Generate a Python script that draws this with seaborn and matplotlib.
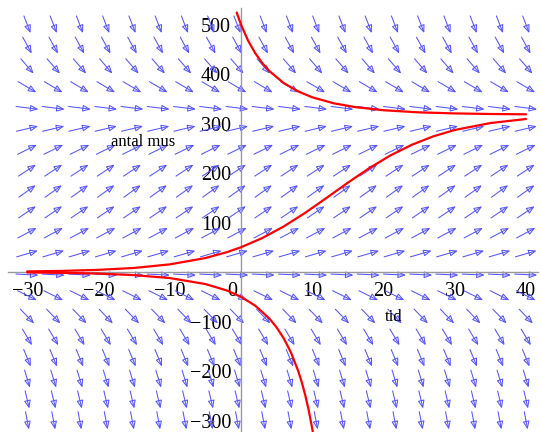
import numpy as np
import pandas as pd
import matplotlib
matplotlib.use("Agg")
import matplotlib.pyplot as plt
import matplotlib.transforms as mtransforms
from matplotlib.patches import FancyArrowPatch
import seaborn as sns

# ---------------- data ----------------
# direction-field grid (20 x 20) : time range and population range
t_range = [-30, 40]
y_range = [-300, 500]
n_grid = 20
# slope dy/dt read per row (rows from y=-300 up to y=500)
row_slopes = [-75.8, -60.7, -47.1, -34.9, -24.2, -14.9, -7.1, -0.7, 4.2, 7.7,
              9.75, 10.3, 9.45, 7.1, 3.4, -1.8, -8.5, -16.6, -26.2, -37.2]

# solution curves (t, y)
curve_upper_t = [-0.6, 0, 1, 2, 3, 4, 6, 8, 10, 13, 16, 20, 25, 30, 35, 40]
curve_upper_y = [524.3, 500, 467.4, 442.1, 422.0, 405.8, 381.7, 365.0, 353.0,
                 340.9, 333.2, 326.8, 322.5, 320.4, 319.2, 318.6]

curve_mid_t = [-30, -25, -20, -15, -10, -5, -2, 0, 3, 6, 9, 12, 15, 18, 21, 24,
               27, 30, 35, 40]
curve_mid_y = [1.2, 2.3, 4.4, 8.2, 15.4, 28.2, 40.0, 50, 68.7, 92.0, 119.4,
               149.6, 180.4, 209.8, 235.7, 257.1, 274.1, 286.9, 300.9, 309.1]

curve_low_t = [-30, -25, -20, -15, -10, -5, -2, 0, 2, 4, 5, 6, 7, 8, 8.5, 9,
               9.5, 10, 10.1]
curve_low_y = [-0.9, -1.7, -3.2, -6.3, -12.2, -24.3, -37.2, -50, -68.0, -94.2,
               -111.9, -134, -162, -198.5, -221, -247.5, -278.7, -316.2, -324.5]

x_ticks = [-30, -20, -10, 0, 10, 20, 30, 40]
x_tick_labels = ["\u221230", "\u221220", "\u221210", "0", "10", "20", "30", "40"]
x_minor = [-25, -15, -5, 5, 15, 25, 35]
y_ticks = [-300, -200, -100, 0, 100, 200, 300, 400, 500]
y_tick_labels = ["\u2212300", "\u2212200", "\u2212100", "", "100", "200", "300", "400", "500"]
y_minor = [-250, -150, -50, 50, 150, 250, 350, 450]

x_label = "tid"
y_label = "antal mus"

# ---------------- style ----------------
sns.set_style("white")
plt.rcParams["font.family"] = ["Liberation Serif", "DejaVu Serif"]

fig = plt.figure(figsize=(5.41, 4.32), dpi=100)
ax = fig.add_axes([0, 0, 1, 1])
ax.set_xlim(-33.82, 42.11)
ax.set_ylim(-323.2, 549.5)
ax.set_facecolor("white")

arrow_color = "#5555ff"
t_cols = np.linspace(t_range[0], t_range[1], n_grid)
y_rows = np.linspace(y_range[0], y_range[1], n_grid)
hx = (t_range[1] - t_range[0]) / (n_grid - 1)
hy = (y_range[1] - y_range[0]) / (n_grid - 1)
L = 0.86
for yv, s in zip(y_rows, row_slopes):
    dx, dy = 1.0 / hx, s / hy
    n = np.hypot(dx, dy)
    U = L * hx * dx / n
    V = L * hy * dy / n
    for tv in t_cols:
        ax.add_patch(FancyArrowPatch((tv - U / 2, yv - V / 2), (tv + U / 2, yv + V / 2),
                                     arrowstyle="-|>,head_length=4.8,head_width=2.0",
                                     mutation_scale=1, ec=arrow_color, fc="none",
                                     lw=0.75, shrinkA=0, shrinkB=0, zorder=1))

# solution curves
df = pd.concat([
    pd.DataFrame({"t": curve_upper_t, "y": curve_upper_y, "curve": "upper"}),
    pd.DataFrame({"t": curve_mid_t, "y": curve_mid_y, "curve": "mid"}),
    pd.DataFrame({"t": curve_low_t, "y": curve_low_y, "curve": "low"}),
])
for name, sub in df.groupby("curve"):
    sns.lineplot(data=sub, x="t", y="y", sort=False, estimator=None, color="red",
                 lw=1.6, ax=ax, zorder=3, legend=False)

# axes through origin
for side in ["top", "right"]:
    ax.spines[side].set_visible(False)
ax.spines["left"].set_position(("data", 0))
ax.spines["bottom"].set_position(("data", 0))
ax.spines["left"].set_bounds(-330, 533)
ax.spines["bottom"].set_bounds(-32.7, 41.7)
for side in ["left", "bottom"]:
    ax.spines[side].set_color("#9a9a9a")
    ax.spines[side].set_linewidth(1.0)
    ax.spines[side].set_zorder(2)

ax.set_xticks(x_ticks)
ax.set_xticklabels(x_tick_labels)
ax.set_xticks(x_minor, minor=True)
ax.set_yticks(y_ticks)
ax.set_yticklabels(y_tick_labels)
ax.set_yticks(y_minor, minor=True)
ax.tick_params(which="major", direction="inout", length=5, width=0.8,
               color="#8a8a8a", labelsize=14.5, pad=4.5, labelcolor="black")
ax.tick_params(which="minor", direction="inout", length=3, width=0.6, color="#8a8a8a")
ax.set_xlabel("")
ax.set_ylabel("")

for lbl in ax.get_xticklabels():
    if lbl.get_text() == "0":
        lbl.set_transform(lbl.get_transform() +
                          mtransforms.ScaledTranslation(-0.09, 0, fig.dpi_scale_trans))

ax.text(21.5, -91, x_label, ha="center", va="center", fontsize=12, color="black")
ax.text(-13.8, 262, y_label, ha="center", va="center", fontsize=12, color="black")

fig.savefig("out.png", dpi=100, facecolor="white")
